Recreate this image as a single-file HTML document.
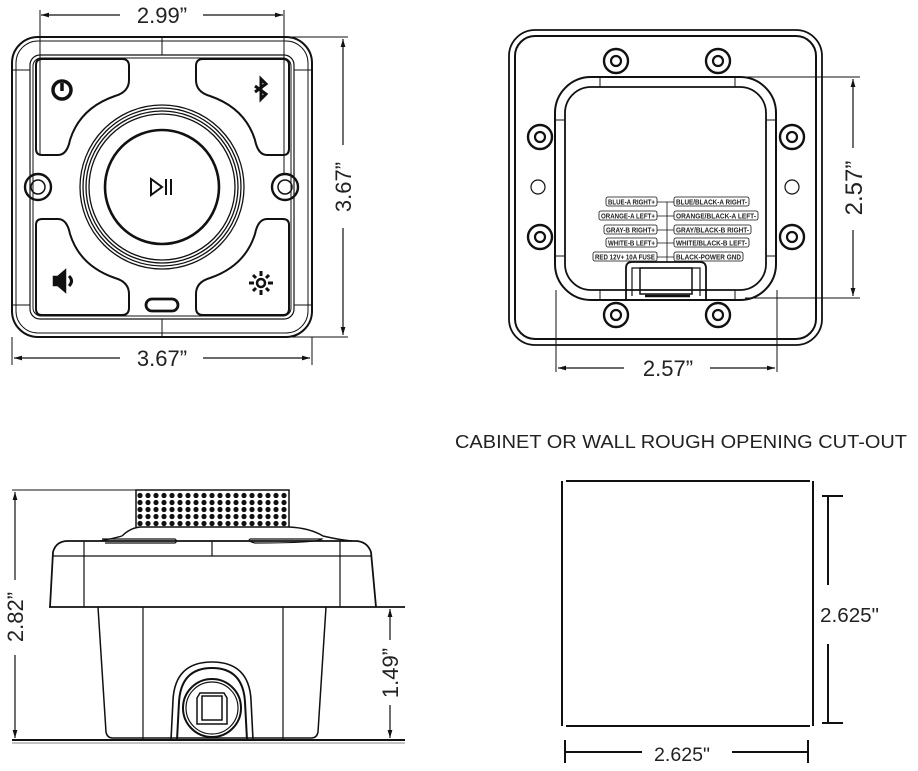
<!DOCTYPE html>
<html><head><meta charset="utf-8"><style>
html,body{margin:0;padding:0;background:#fff;}
svg{display:block;}
text{font-family:"Liberation Sans",sans-serif;fill:#222;}
.lb{font-family:"Liberation Sans",sans-serif;font-size:7.6px;font-weight:bold;fill:#222;}
</style></head><body>
<svg width="918" height="771" viewBox="0 0 918 771" xmlns="http://www.w3.org/2000/svg">
<defs>
<marker id="a" viewBox="0 0 10 10" refX="10" refY="5" markerWidth="8" markerHeight="8" orient="auto-start-reverse" markerUnits="userSpaceOnUse"><path d="M0,2 L10,5 L0,8 Z" fill="#111"/></marker>
<pattern id="dots" x="136" y="492" width="8" height="7" patternUnits="userSpaceOnUse"><circle cx="4" cy="3.5" r="2.6" fill="#111"/></pattern>
<path id="btn" d="M42,59 H122 Q129,59 129,66 V80 Q129,92 115,96 Q80,108 70,140 Q67,155 58,155 H42 Q36,155 36,149 V65 Q36,59 42,59 Z"/>
</defs>
<g fill="none" stroke="#111">
<!-- FRONT VIEW -->
<rect x="12" y="37" width="300" height="300" rx="26" stroke-width="2"/>
<rect x="16" y="41" width="292" height="292" rx="22" stroke-width="1"/>
<rect x="30" y="55" width="264" height="264" rx="10" stroke-width="1.2"/>
<rect x="33" y="58" width="258" height="258" rx="8" stroke-width="1"/>
<line x1="162" y1="37" x2="162" y2="55" stroke-width="1"/>
<line x1="162" y1="319" x2="162" y2="337" stroke-width="1"/>
<line x1="12" y1="70" x2="30" y2="70" stroke-width="1"/><line x1="294" y1="70" x2="312" y2="70" stroke-width="1"/>
<line x1="12" y1="305" x2="30" y2="305" stroke-width="1"/><line x1="294" y1="305" x2="312" y2="305" stroke-width="1"/>
<use href="#btn" stroke-width="2"/>
<use href="#btn" stroke-width="2" transform="translate(325,0) scale(-1,1)"/>
<use href="#btn" stroke-width="2" transform="translate(0,374) scale(1,-1)"/>
<use href="#btn" stroke-width="2" transform="translate(325,374) scale(-1,-1)"/>
<circle cx="162" cy="187" r="82" stroke-width="1.3"/>
<circle cx="162" cy="187" r="79" stroke-width="1.3"/>
<circle cx="162" cy="187" r="76" stroke-width="1.3"/>
<circle cx="162" cy="187" r="73" stroke-width="1.3"/>
<circle cx="162" cy="187" r="57" stroke-width="2.6"/>
<circle cx="38" cy="187" r="13" stroke-width="2.4"/><circle cx="38" cy="187" r="7" stroke-width="1.5"/>
<circle cx="285" cy="187" r="13" stroke-width="2.4"/><circle cx="285" cy="187" r="7" stroke-width="1.5"/>
<rect x="146" y="299" width="32" height="12" rx="6" stroke-width="2.8"/>
<!-- icons -->
<circle cx="62" cy="90" r="9" stroke-width="3.5"/><line x1="62" y1="83" x2="62" y2="91" stroke-width="3.5"/>
<path d="M255,86 L266,94 L261,99 V79 L266,84 L255,92" stroke-width="3"/>
<path d="M151,179 V195 L162,187 Z" stroke-width="2"/><line x1="166" y1="179" x2="166" y2="195" stroke-width="2"/><line x1="171" y1="179" x2="171" y2="195" stroke-width="2"/>
<path d="M54,277 H58 L65,271 V291 L58,285 H54 Z" fill="#111" stroke-width="2.5"/><path d="M69,276 Q74,281 69,286" stroke-width="3"/>
<circle cx="261" cy="283" r="4" stroke-width="2.5"/>
<g stroke-width="3"><line x1="261" y1="271" x2="261" y2="276"/><line x1="261" y1="290" x2="261" y2="295"/><line x1="249" y1="283" x2="254" y2="283"/><line x1="268" y1="283" x2="273" y2="283"/><line x1="253" y1="275" x2="256" y2="278"/><line x1="266" y1="288" x2="269" y2="291"/><line x1="253" y1="291" x2="256" y2="288"/><line x1="266" y1="278" x2="269" y2="275"/></g>
<!-- dims -->
<line x1="40" y1="10" x2="40" y2="155" stroke-width="1"/><line x1="284" y1="10" x2="284" y2="175" stroke-width="1"/>
<line x1="41" y1="15" x2="120" y2="15" stroke-width="1.2" marker-start="url(#a)"/><line x1="203" y1="15" x2="283" y2="15" stroke-width="1.2" marker-end="url(#a)"/>
<line x1="290" y1="37" x2="348" y2="37" stroke-width="1"/><line x1="290" y1="337" x2="348" y2="337" stroke-width="1"/>
<line x1="343" y1="39" x2="343" y2="145" stroke-width="1.2" marker-start="url(#a)"/><line x1="343" y1="228" x2="343" y2="335" stroke-width="1.2" marker-end="url(#a)"/>
<line x1="12" y1="337" x2="12" y2="365" stroke-width="1"/><line x1="312" y1="337" x2="312" y2="365" stroke-width="1"/>
<line x1="14" y1="358" x2="120" y2="358" stroke-width="1.2" marker-start="url(#a)"/><line x1="203" y1="358" x2="310" y2="358" stroke-width="1.2" marker-end="url(#a)"/>

<!-- BACK VIEW -->
<rect x="509" y="30" width="313" height="315" rx="26" stroke-width="1.8"/>
<rect x="515" y="36" width="301" height="303" rx="20" stroke-width="2"/>
<rect x="555" y="77" width="221" height="223" rx="36" stroke-width="2"/>
<rect x="565" y="87" width="201" height="203" rx="26" stroke-width="1.8"/>
<line x1="600" y1="77" x2="600" y2="87" stroke-width="1"/><line x1="735" y1="77" x2="735" y2="87" stroke-width="1"/>
<line x1="600" y1="290" x2="600" y2="300" stroke-width="1"/><line x1="735" y1="290" x2="735" y2="300" stroke-width="1"/>
<line x1="555" y1="120" x2="565" y2="120" stroke-width="1"/><line x1="766" y1="120" x2="776" y2="120" stroke-width="1"/>
<line x1="555" y1="256" x2="565" y2="256" stroke-width="1"/><line x1="766" y1="256" x2="776" y2="256" stroke-width="1"/>
<g stroke-width="2.4">
<circle cx="616" cy="61" r="12"/><circle cx="718" cy="61" r="12"/>
<circle cx="540" cy="137" r="12"/><circle cx="792" cy="137" r="12"/>
<circle cx="540" cy="237" r="12"/><circle cx="792" cy="237" r="12"/>
<circle cx="616" cy="315" r="12"/><circle cx="718" cy="315" r="12"/>
</g>
<g stroke-width="2.2">
<circle cx="616" cy="61" r="5"/><circle cx="718" cy="61" r="5"/>
<circle cx="540" cy="137" r="5"/><circle cx="792" cy="137" r="5"/>
<circle cx="540" cy="237" r="5"/><circle cx="792" cy="237" r="5"/>
<circle cx="616" cy="315" r="5"/><circle cx="718" cy="315" r="5"/>
</g>
<circle cx="538" cy="187" r="7" stroke-width="1.2"/><circle cx="792" cy="187" r="7" stroke-width="1.2"/>
<path d="M626,300 V268 Q626,262 632,262 H700 Q706,262 706,268 V300" stroke-width="1.8"/>
<path d="M632,296 V268 H700 V296" stroke-width="1.2"/>
<rect x="640" y="268" width="52" height="26" stroke-width="1.5"/>
<line x1="645" y1="296" x2="690" y2="296" stroke-width="2.5"/>
<line x1="667" y1="202" x2="667" y2="262" stroke-width="0.8"/>
<g stroke-width="0.8">
<rect x="606" y="197" width="51" height="9" rx="2"/><rect x="674" y="197" width="75" height="9" rx="2"/>
<rect x="599" y="211" width="58" height="9" rx="2"/><rect x="674" y="211" width="84" height="9" rx="2"/>
<rect x="604" y="225" width="53" height="9" rx="2"/><rect x="674" y="225" width="77" height="9" rx="2"/>
<rect x="606" y="238" width="51" height="9" rx="2"/><rect x="674" y="238" width="75" height="9" rx="2"/>
<rect x="593" y="252" width="64" height="9" rx="2"/><rect x="674" y="252" width="69" height="9" rx="2"/>
<line x1="657" y1="202" x2="674" y2="202"/><line x1="657" y1="216" x2="674" y2="216"/><line x1="657" y1="230" x2="674" y2="230"/><line x1="657" y1="243" x2="674" y2="243"/><line x1="657" y1="257" x2="674" y2="257"/>
</g>
<line x1="740" y1="77" x2="860" y2="77" stroke-width="1"/><line x1="745" y1="298" x2="860" y2="298" stroke-width="1"/>
<line x1="853" y1="79" x2="853" y2="148" stroke-width="1.2" marker-start="url(#a)"/><line x1="853" y1="230" x2="853" y2="296" stroke-width="1.2" marker-end="url(#a)"/>
<line x1="556" y1="290" x2="556" y2="372" stroke-width="1"/><line x1="777" y1="290" x2="777" y2="372" stroke-width="1"/>
<line x1="558" y1="368" x2="624" y2="368" stroke-width="1.2" marker-start="url(#a)"/><line x1="710" y1="368" x2="775" y2="368" stroke-width="1.2" marker-end="url(#a)"/>

<!-- SIDE VIEW -->
<rect x="136" y="491" width="153" height="36" fill="url(#dots)" stroke="none"/>
<path d="M136,527 V490 H289 V527" stroke-width="1.5"/>
<line x1="12" y1="490" x2="136" y2="490" stroke-width="1"/>
<path d="M122,536 Q130,528 140,527 H289 Q310,528 323,536 Q340,540 352,541" stroke-width="1.5"/>
<path d="M50,607 L53,552 Q56,541 68,541 H355 Q367,541 371,552 L376,607" stroke-width="1.8"/>
<path d="M100,541 Q115,538 122,536" stroke-width="1.2"/>
<path d="M102,539 H175 Q178,541 175,543 H105" stroke-width="1.2"/><path d="M250,539 H322 Q318,543 255,543 Q247,541 250,539" stroke-width="1.2"/>
<line x1="53" y1="556" x2="372" y2="556" stroke-width="1.2"/>
<line x1="84" y1="541" x2="84" y2="607" stroke-width="1.2"/><line x1="340" y1="541" x2="340" y2="607" stroke-width="1.2"/>
<line x1="212" y1="541" x2="212" y2="556" stroke-width="1.2"/>
<line x1="49" y1="607" x2="405" y2="607" stroke-width="1.8"/>
<path d="M98,607 L106,732 Q107,738 113,738 H311 Q317,738 318,732 L326,607" stroke-width="1.5"/>
<line x1="143" y1="607" x2="143" y2="740" stroke-width="1.2"/><line x1="283" y1="607" x2="283" y2="740" stroke-width="1.2"/>
<line x1="12" y1="740" x2="405" y2="740" stroke-width="2"/>
<line x1="12" y1="743" x2="405" y2="743" stroke-width="0.6"/>
<path d="M171,740 L173,700 Q175,662 212,662 Q249,662 251,700 L253,740" stroke-width="1.6"/>
<path d="M177,740 L179,702 Q181,668 212,668 Q243,668 245,702 L247,740" stroke-width="2"/>
<circle cx="212" cy="708" r="29" stroke-width="2"/>
<circle cx="212" cy="708" r="26" stroke-width="1.2"/>
<path d="M197,698 L200,693 H224 L227,698 V724 H197 Z" stroke-width="1.5"/>
<rect x="202" y="696" width="20" height="24" stroke-width="1.5"/>
<line x1="15" y1="492" x2="15" y2="580" stroke-width="1.2" marker-start="url(#a)"/><line x1="15" y1="655" x2="15" y2="738" stroke-width="1.2" marker-end="url(#a)"/>
<line x1="390" y1="609" x2="390" y2="640" stroke-width="1.2" marker-start="url(#a)"/><line x1="390" y1="705" x2="390" y2="738" stroke-width="1.2" marker-end="url(#a)"/>

<!-- CUTOUT -->
<line x1="562" y1="481" x2="562" y2="726" stroke-width="2"/>
<line x1="813" y1="481" x2="813" y2="726" stroke-width="2"/>
<line x1="566" y1="481" x2="810" y2="481" stroke-width="2"/>
<line x1="566" y1="726" x2="810" y2="726" stroke-width="2"/>
<line x1="822" y1="496" x2="843" y2="496" stroke-width="2"/><line x1="822" y1="723" x2="843" y2="723" stroke-width="2"/>
<line x1="828" y1="496" x2="828" y2="585" stroke-width="2"/><line x1="828" y1="644" x2="828" y2="723" stroke-width="2"/>
<line x1="565" y1="740" x2="565" y2="763" stroke-width="2"/><line x1="808" y1="740" x2="808" y2="763" stroke-width="2"/>
<line x1="565" y1="752" x2="642" y2="752" stroke-width="2"/><line x1="732" y1="752" x2="808" y2="752" stroke-width="2"/>
</g>
<text x="162" y="23" font-size="22" text-anchor="middle">2.99”</text>
<text x="162" y="366" font-size="22" text-anchor="middle">3.67”</text>
<text transform="translate(351,187) rotate(-90)" font-size="22" text-anchor="middle">3.67”</text>
<text x="668" y="376" font-size="22" text-anchor="middle">2.57”</text>
<text transform="translate(862,188) rotate(-90)" font-size="24" text-anchor="middle">2.57”</text>
<text transform="translate(23,617) rotate(-90)" font-size="22" text-anchor="middle">2.82”</text>
<text transform="translate(398,673) rotate(-90)" font-size="22" text-anchor="middle">1.49”</text>
<text x="455" y="448" font-size="18" textLength="452" lengthAdjust="spacingAndGlyphs">CABINET OR WALL ROUGH OPENING CUT-OUT</text>
<text x="820" y="622" font-size="20" textLength="59" lengthAdjust="spacingAndGlyphs">2.625"</text>
<text x="654" y="761" font-size="19" textLength="56" lengthAdjust="spacingAndGlyphs">2.625"</text>
<g>
<text class="lb" x="608" y="204.7" textLength="47" lengthAdjust="spacingAndGlyphs">BLUE-A RIGHT+</text>
<text class="lb" x="601" y="218.7" textLength="54" lengthAdjust="spacingAndGlyphs">ORANGE-A LEFT+</text>
<text class="lb" x="606" y="232.7" textLength="49" lengthAdjust="spacingAndGlyphs">GRAY-B RIGHT+</text>
<text class="lb" x="608" y="245.7" textLength="47" lengthAdjust="spacingAndGlyphs">WHITE-B LEFT+</text>
<text class="lb" x="595" y="259.7" textLength="60" lengthAdjust="spacingAndGlyphs">RED 12V+ 10A FUSE</text>
<text class="lb" x="676" y="204.7" textLength="71" lengthAdjust="spacingAndGlyphs">BLUE/BLACK-A RIGHT-</text>
<text class="lb" x="676" y="218.7" textLength="80" lengthAdjust="spacingAndGlyphs">ORANGE/BLACK-A LEFT-</text>
<text class="lb" x="676" y="232.7" textLength="73" lengthAdjust="spacingAndGlyphs">GRAY/BLACK-B RIGHT-</text>
<text class="lb" x="676" y="245.7" textLength="71" lengthAdjust="spacingAndGlyphs">WHITE/BLACK-B LEFT-</text>
<text class="lb" x="676" y="259.7" textLength="65" lengthAdjust="spacingAndGlyphs">BLACK-POWER GND</text>
</g>
</svg>
</body></html>
